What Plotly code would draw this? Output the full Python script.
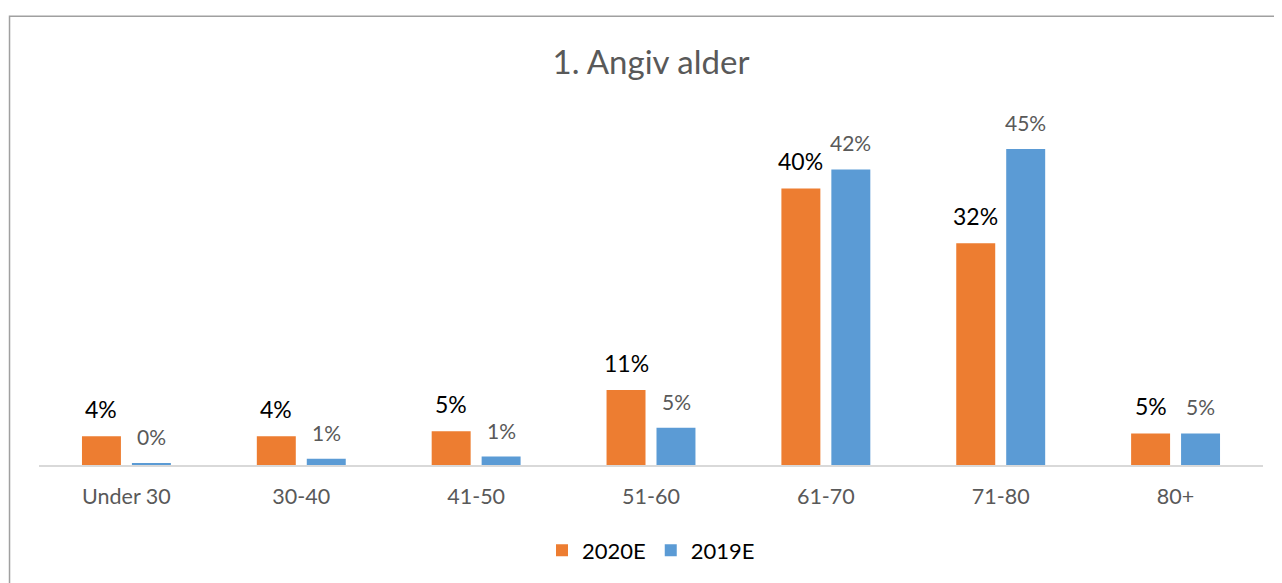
import plotly.graph_objects as go

categories = ["Under 30", "30-40", "41-50", "51-60", "61-70", "71-80", "80+"]
values_2020 = [0.041, 0.041, 0.048, 0.107, 0.394, 0.316, 0.045]
values_2019 = [0.003, 0.009, 0.012, 0.053, 0.421, 0.450, 0.045]
labels_2020 = ["4%", "4%", "5%", "11%", "40%", "32%", "5%"]
labels_2019 = ["0%", "1%", "1%", "5%", "42%", "45%", "5%"]
series_names = ["2020E", "2019E"]

# page body has an 8px default margin; work in page pixels minus that offset
OFF = 8
W, H = 1282 - OFF, 583 - OFF
plot_left, plot_right = 38.5 - OFF, 1263.5 - OFF
plot_bottom, plot_top = 465.5 - OFF, 114.0 - OFF

FONT = "Lato"
ORANGE = "#ED7D31"
BLUE = "#5B9BD5"
GRAY = "#595959"

fig = go.Figure()
fig.add_trace(go.Bar(x=categories, y=values_2020, name=series_names[0],
                     marker=dict(color=ORANGE, line=dict(width=0))))
fig.add_trace(go.Bar(x=categories, y=values_2019, name=series_names[1],
                     marker=dict(color=BLUE, line=dict(width=0))))

annotations = []
for c, v, t in zip(categories, values_2020, labels_2020):
    annotations.append(dict(x=c, y=v, xref="x", yref="y", text=t, showarrow=False,
                            xshift=-25, yshift=11, yanchor="bottom",
                            font=dict(family=FONT, size=23, color="#000000")))
for c, v, t in zip(categories, values_2019, labels_2019):
    annotations.append(dict(x=c, y=v, xref="x", yref="y", text=t, showarrow=False,
                            xshift=25, yshift=12, yanchor="bottom",
                            font=dict(family=FONT, size=21, color=GRAY)))

pw = plot_right - plot_left
ph = plot_bottom - plot_top
def px_x(p):
    return (p - OFF - plot_left) / pw
def px_y(p):
    return (plot_bottom - (p - OFF)) / ph

fig.update_layout(
    width=W, height=H,
    margin=dict(l=plot_left, r=W - plot_right, t=plot_top, b=H - plot_bottom, pad=0),
    paper_bgcolor="white", plot_bgcolor="white",
    barmode="group", bargap=0.4286, bargroupgap=0.22,
    title=dict(text="1. Angiv alder", x=0.5, xref="paper", y=1 - (62 - OFF) / H, yref="container",
               xanchor="center", yanchor="middle",
               font=dict(family=FONT, size=33, color=GRAY)),
    xaxis=dict(showline=True, linecolor="#D9D9D9", linewidth=1.5, ticks="",
               showgrid=False, tickfont=dict(family=FONT, size=21.5, color=GRAY),
               ticklabelstandoff=11),
    yaxis=dict(range=[0, 0.5], visible=False, showgrid=False, zeroline=False),
    legend=dict(orientation="h", x=0.5, xanchor="center", y=px_y(551), yanchor="middle",
                font=dict(family=FONT, size=22, color="#000000"), itemwidth=30,
                traceorder="normal"),
    annotations=annotations,
    shapes=[dict(type="rect", xref="paper", yref="paper",
                 x0=px_x(9), x1=px_x(1295), y0=px_y(600), y1=px_y(16),
                 line=dict(color="#A0A0A0", width=1.5), fillcolor="rgba(0,0,0,0)",
                 layer="below")],
)

fig.write_html("out.html")
